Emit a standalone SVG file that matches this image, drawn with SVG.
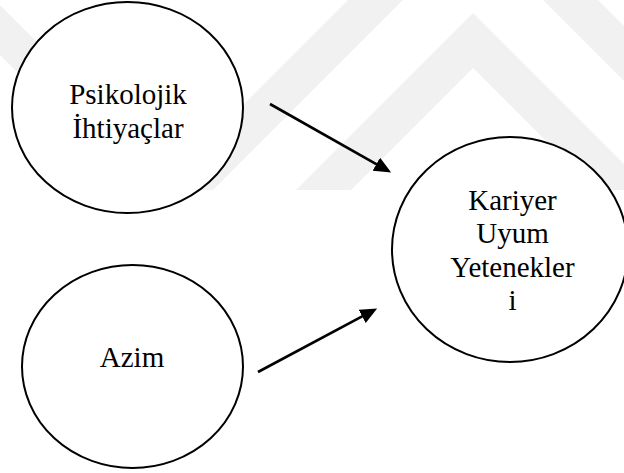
<svg xmlns="http://www.w3.org/2000/svg" width="624" height="473" viewBox="0 0 624 473">
  <style>
    .wm { fill: #f1f1f1; stroke: none; }
    .node { fill: #ffffff; stroke: #000000; stroke-width: 2; }
    .label { font-family: "Liberation Serif", "Times New Roman", serif; font-size: 29px; fill: #000000; text-anchor: middle; }
    .edge { stroke: #000000; stroke-width: 2.6; fill: none; marker-end: url(#arrow); }
  </style>
  <defs>
    <marker id="arrow" markerUnits="userSpaceOnUse" markerWidth="17" markerHeight="15" refX="9" refY="7.5" orient="auto">
      <path d="M0,0 L17,7.5 L0,15 Z" fill="#000000"/>
    </marker>
    <clipPath id="wmclip">
      <rect x="0" y="0" width="624" height="190"/>
    </clipPath>
  </defs>
  <rect x="0" y="0" width="624" height="473" fill="#ffffff"/>
  <g id="watermark" clip-path="url(#wmclip)">
    <polygon class="wm" points="296,190 473,13 650,190 595,190 473,68 351,190"/>
    <polygon class="wm" points="158,190 473,-125 788,190 733,190 473,-70 213,190"/>
    <polygon class="wm" points="0,5 0,55 90,145 90,95"/>
  </g>
  <g id="connectors">
    <line class="edge" x1="270" y1="104" x2="384.2" y2="168.6"/>
    <line class="edge" x1="258" y1="372" x2="370.1" y2="312.2"/>
  </g>
  <g id="node-psikolojik">
    <ellipse class="node" cx="127.5" cy="107.5" rx="115.5" ry="105.5"/>
    <text class="label" x="128" y="104">Psikolojik</text>
    <text class="label" x="128" y="137.5">İhtiyaçlar</text>
  </g>
  <g id="node-azim">
    <ellipse class="node" cx="132.5" cy="366.5" rx="110.5" ry="101.5"/>
    <text class="label" x="132" y="367">Azim</text>
  </g>
  <g id="node-kariyer">
    <ellipse class="node" cx="510" cy="249.5" rx="118" ry="112.5"/>
    <text class="label" x="512.5" y="209.5">Kariyer</text>
    <text class="label" x="512.5" y="243">Uyum</text>
    <text class="label" x="512.5" y="276.5">Yetenekler</text>
    <text class="label" x="512.5" y="310">i</text>
  </g>
</svg>
